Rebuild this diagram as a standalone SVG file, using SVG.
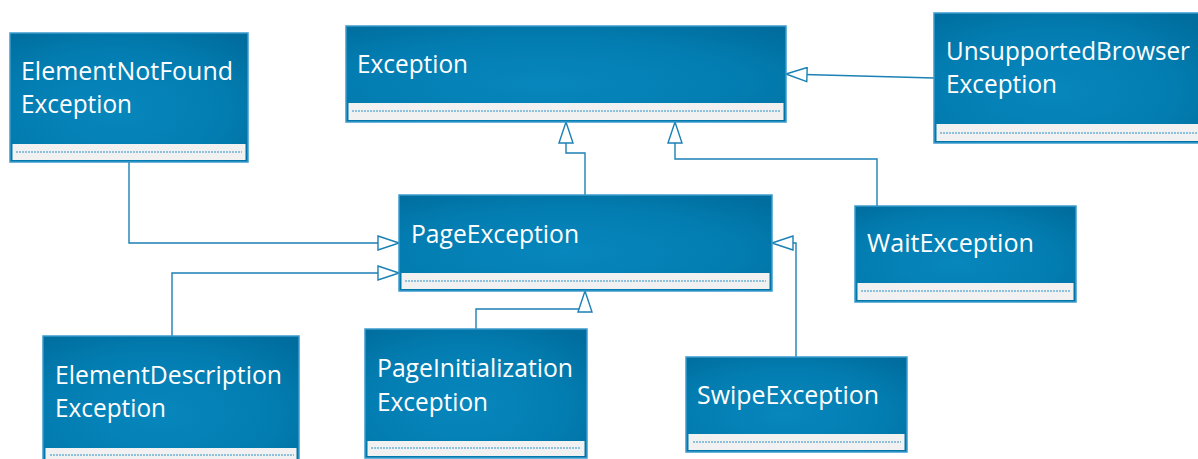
<svg xmlns="http://www.w3.org/2000/svg" width="1198" height="459" viewBox="0 0 1198 459">
<defs>
  <radialGradient id="hdr" cx="0.45" cy="0.6" r="0.75">
    <stop offset="0" stop-color="#0787bd"/>
    <stop offset="0.6" stop-color="#037db1"/>
    <stop offset="1" stop-color="#006d9e"/>
  </radialGradient>
  <marker id="tri" markerUnits="userSpaceOnUse" viewBox="-1 -1 23 16" refX="21" refY="7" markerWidth="23" markerHeight="16" orient="auto">
    <path d="M0,0 L21,7 L0,14 Z" fill="#ffffff" stroke="#1b80b5" stroke-width="1.4"/>
  </marker>
</defs>
<style>
  .box{fill:url(#hdr);stroke:#3b9bcc;stroke-width:1.5}
  .comp{fill:#f1f1f1;stroke:none}
  .dash{stroke:#2b8fc4;stroke-width:1.2;stroke-dasharray:2 1}
  .lbl{font-family:"Open Sans","Noto Sans","Liberation Sans",sans-serif;font-size:26px;fill:#ffffff}
  .conn{fill:none;stroke:#1b80b5;stroke-width:1.4;marker-end:url(#tri)}
</style>
<rect width="1198" height="459" fill="#ffffff"/>

<g id="connectors">
  <path class="conn" d="M585,195 V153 H566 V122"/>
  <path class="conn" d="M877,206 V159 H675 V122"/>
  <path class="conn" d="M934,78 L786,74"/>
  <path class="conn" d="M129,162 V243 H399"/>
  <path class="conn" d="M172,336 V273 H399"/>
  <path class="conn" d="M476,329 V309 H585 V291"/>
  <path class="conn" d="M796,357 V243 H772"/>
</g>

<g id="ElementNotFoundException">
  <rect class="box" x="10" y="33" width="238" height="129"/>
  <rect class="comp" x="12.5" y="144" width="233" height="16"/>
  <line class="dash" x1="16" y1="152" x2="242" y2="152"/>
  <text class="lbl" x="21" y="80" textLength="212" lengthAdjust="spacingAndGlyphs">ElementNotFound</text>
  <text class="lbl" x="21" y="113" textLength="111" lengthAdjust="spacingAndGlyphs">Exception</text>
</g>

<g id="Exception">
  <rect class="box" x="346" y="26" width="440" height="96"/>
  <rect class="comp" x="348.5" y="103" width="435" height="17"/>
  <line class="dash" x1="352" y1="111" x2="781" y2="111"/>
  <text class="lbl" x="357" y="73" textLength="111" lengthAdjust="spacingAndGlyphs">Exception</text>
</g>

<g id="UnsupportedBrowserException">
  <rect class="box" x="934" y="13" width="265" height="130"/>
  <rect class="comp" x="936.5" y="124" width="262" height="17"/>
  <line class="dash" x1="940" y1="133" x2="1198" y2="133"/>
  <text class="lbl" x="946" y="60" textLength="244" lengthAdjust="spacingAndGlyphs" style="font-size:25px">UnsupportedBrowser</text>
  <text class="lbl" x="946" y="93" textLength="111" lengthAdjust="spacingAndGlyphs">Exception</text>
</g>

<g id="PageException">
  <rect class="box" x="399" y="195" width="373" height="96"/>
  <rect class="comp" x="401.5" y="273" width="368" height="16"/>
  <line class="dash" x1="405" y1="281" x2="766" y2="281"/>
  <text class="lbl" x="411" y="243" textLength="168" lengthAdjust="spacingAndGlyphs">PageException</text>
</g>

<g id="WaitException">
  <rect class="box" x="855" y="206" width="221" height="96"/>
  <rect class="comp" x="857.5" y="283" width="216" height="17"/>
  <line class="dash" x1="861" y1="291" x2="1070" y2="291"/>
  <text class="lbl" x="867" y="252" textLength="167" lengthAdjust="spacingAndGlyphs">WaitException</text>
</g>

<g id="ElementDescriptionException">
  <rect class="box" x="43" y="336" width="256" height="130"/>
  <rect class="comp" x="45.5" y="448" width="251" height="18"/>
  <line class="dash" x1="50" y1="455" x2="294" y2="455"/>
  <text class="lbl" x="55" y="384" textLength="227" lengthAdjust="spacingAndGlyphs">ElementDescription</text>
  <text class="lbl" x="55" y="417" textLength="111" lengthAdjust="spacingAndGlyphs">Exception</text>
</g>

<g id="PageInitializationException">
  <rect class="box" x="365" y="329" width="222" height="129"/>
  <rect class="comp" x="367.5" y="441" width="217" height="15"/>
  <line class="dash" x1="371" y1="448" x2="581" y2="448"/>
  <text class="lbl" x="377" y="377" textLength="196" lengthAdjust="spacingAndGlyphs">PageInitialization</text>
  <text class="lbl" x="377" y="411" textLength="111" lengthAdjust="spacingAndGlyphs">Exception</text>
</g>

<g id="SwipeException">
  <rect class="box" x="686" y="357" width="221" height="95"/>
  <rect class="comp" x="688.5" y="434" width="216" height="16"/>
  <line class="dash" x1="693" y1="442" x2="901" y2="442"/>
  <text class="lbl" x="697" y="404" textLength="182" lengthAdjust="spacingAndGlyphs">SwipeException</text>
</g>
</svg>
